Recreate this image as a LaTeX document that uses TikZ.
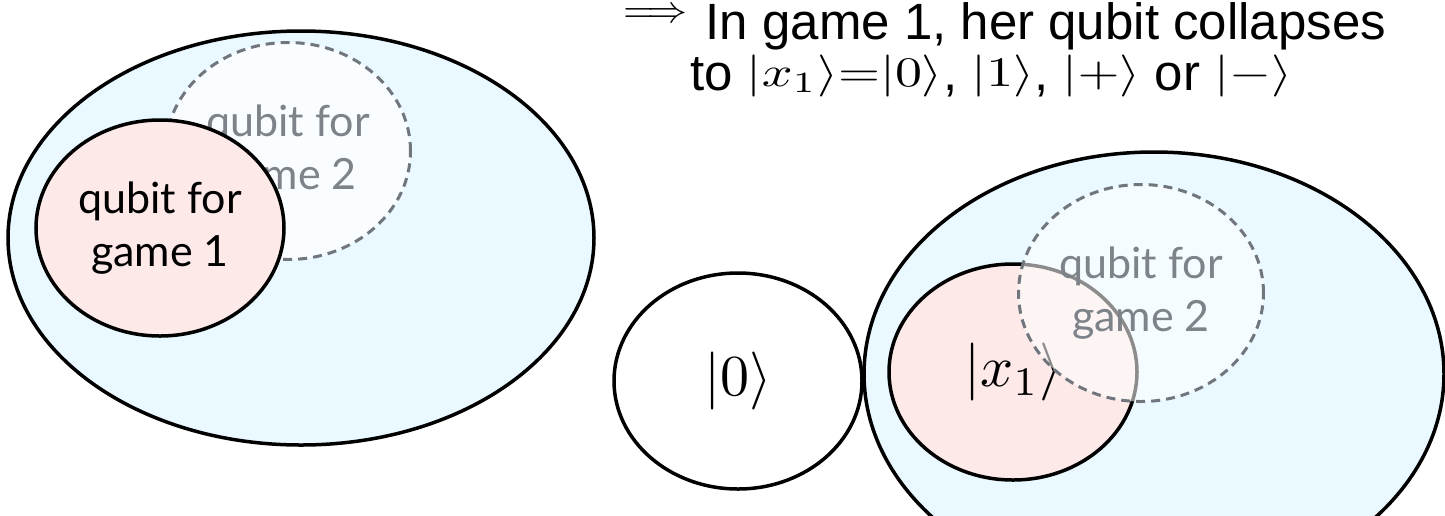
\documentclass[tikz,border=0pt]{standalone}
\usepackage{graphicx}
\usepackage{fontspec}
\setsansfont{Lato}
\newfontfamily\handfont{Liberation Sans}
\usetikzlibrary{shapes.geometric}
\newcommand{\bigket}[1]{\scalebox{5.8}{\fontsize{10}{12}\selectfont$#1$}}
\newcommand{\noteket}[1]{\raisebox{4pt}{\scalebox{5.4}[4.2]{\fontsize{10}{12}\selectfont$#1$}}}
\definecolor{outerblue}{RGB}{233,249,255}
\definecolor{innerpink}{RGB}{252,233,232}
\definecolor{dashgray}{RGB}{112,118,124}
\definecolor{labelgray}{RGB}{125,131,137}
\begin{document}
\begin{tikzpicture}[x=1pt,y=-1pt,
  oval/.style={ellipse, inner sep=0pt, line width=3.5pt},
  outer/.style={oval, draw=black, fill=outerblue},
  inner/.style={oval, draw=black, fill=innerpink, minimum width=248pt, minimum height=216pt},
  ghost/.style={oval, draw=dashgray, line width=3pt, dash pattern=on 9pt off 6pt,
                minimum width=245pt, minimum height=217pt, fill=white, text opacity=1},
  lbl/.style={font=\sffamily\fontsize{43}{53}\selectfont, align=center},
  note/.style={font=\handfont\fontsize{51}{62}\selectfont, anchor=base west, inner sep=0pt}
]
\clip (0,0) rectangle (1445,515);
\fill[white] (0,0) rectangle (1445,515);
% left group
\node[outer, minimum width=586pt, minimum height=414pt] (big1) at (301,238) {};
\node[ghost, fill opacity=0.8, lbl, text=labelgray] (g2a) at (288,151) {qubit for\\game 2};
\node[inner, lbl] (g1a) at (160,228) {qubit for\\game 1};
% right group
\node[oval, draw=black, fill=white, minimum width=248pt, minimum height=216pt] (zero) at (738,381) {\bigket{|0\rangle}};
\node[outer, minimum width=580pt, minimum height=444pt] (big2) at (1154,374) {};
\node[inner] (x1) at (1013,372) {\bigket{|x_1\rangle}};
\node[ghost, fill opacity=0.55, lbl, text=labelgray] (g2b) at (1141,293) {qubit for\\game 2};
% handwritten note
\node[note] (n1) at (623,39) {\raisebox{17pt}{\scalebox{4}[3.8]{\fontsize{10}{12}\selectfont$\Longrightarrow$}}\hspace{18pt}In game 1, her qubit collapses};
\node[note] (n2) at (690,90) {to \noteket{|x_1\rangle{=}|0\rangle}, \noteket{|1\rangle}, \noteket{|{+}\rangle} or \noteket{|{-}\rangle}};
\end{tikzpicture}
\end{document}
